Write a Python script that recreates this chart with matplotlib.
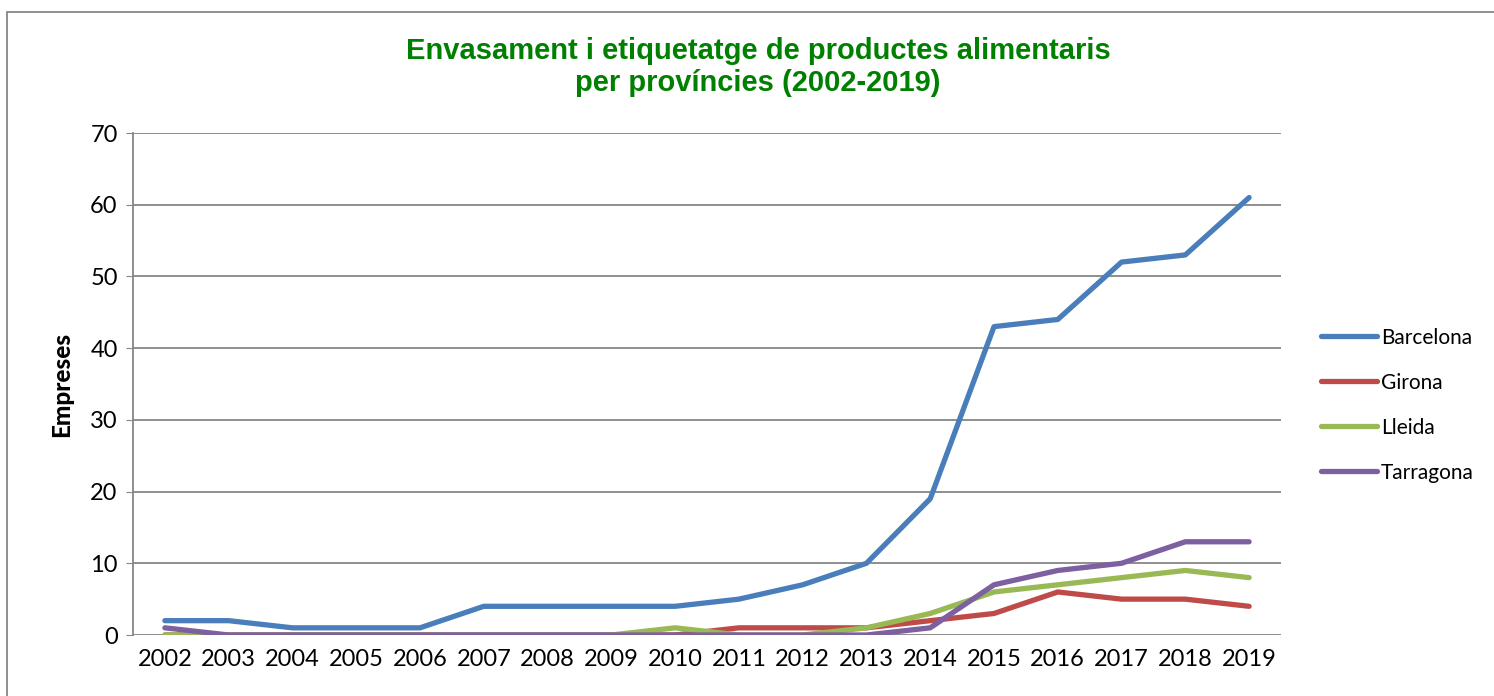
import matplotlib.pyplot as plt
import numpy as np

years = ['2002', '2003', '2004', '2005', '2006', '2007', '2008', '2009', '2010',
         '2011', '2012', '2013', '2014', '2015', '2016', '2017', '2018', '2019']
barcelona = [2, 2, 1, 1, 1, 4, 4, 4, 4, 5, 7, 10, 19, 43, 44, 52, 53, 61]
girona = [0, 0, 0, 0, 0, 0, 0, 0, 0, 1, 1, 1, 2, 3, 6, 5, 5, 4]
lleida = [0, 0, 0, 0, 0, 0, 0, 0, 1, 0, 0, 1, 3, 6, 7, 8, 9, 8]
tarragona = [1, 0, 0, 0, 0, 0, 0, 0, 0, 0, 0, 0, 1, 7, 9, 10, 13, 13]

series = [('Barcelona', barcelona, '#4a7ebb'),
          ('Girona', girona, '#be4b48'),
          ('Lleida', lleida, '#98b954'),
          ('Tarragona', tarragona, '#7d60a0')]

fig = plt.figure(figsize=(14.94, 6.96), dpi=100)
W, H = 1494, 696
ax = fig.add_axes([133 / W, 1 - 635 / H, (1281 - 133) / W, (635 - 133) / H])

x = np.arange(len(years))
for name, vals, col in series:
    ax.plot(x, vals, color=col, lw=3.8, label=name, solid_capstyle='round',
            solid_joinstyle='round')

ax.set_xlim(-0.5, len(years) - 0.5)
ax.set_ylim(0, 70)
ax.set_yticks(range(0, 71, 10))
ax.set_xticks(x)
ax.set_xticklabels(years)
ax.grid(axis='y', color='#868686', lw=1.3)
ax.set_axisbelow(True)
for s in ['top', 'right', 'bottom']:
    ax.spines[s].set_visible(False)
ax.spines['left'].set_color('#868686')
ax.spines['left'].set_linewidth(1.3)
ax.tick_params(axis='x', length=0, pad=10, labelsize=17)
ax.tick_params(axis='y', length=5, color='#868686', pad=6, labelsize=17)
for lab in ax.get_xticklabels() + ax.get_yticklabels():
    lab.set_fontfamily('Lato')

ax.set_ylabel('Empreses', fontsize=17.5, fontweight='black', fontfamily='Lato', labelpad=12)

fig.text(758 / W, 1 - 67 / H, 'Envasament i etiquetatge de productes alimentaris\nper províncies (2002-2019)',
         ha='center', va='center', fontsize=21, fontweight='bold', color='#008000',
         fontfamily='Liberation Sans', linespacing=1.2)

leg = fig.legend(loc='upper left', bbox_to_anchor=(1302 / W, 1 - 309 / H), frameon=False,
                 prop={'family': 'Lato', 'size': 15}, handlelength=2.7, handletextpad=0.2,
                 labelspacing=1.2)

# outer chart border
border = plt.Rectangle((7 / W, -0.1), 1.2, 1 - 12 / H + 0.1, transform=fig.transFigure,
                       fill=False, edgecolor='#868686', lw=1.3)
fig.patches.append(border)

fig.savefig('out.png', dpi=100)
